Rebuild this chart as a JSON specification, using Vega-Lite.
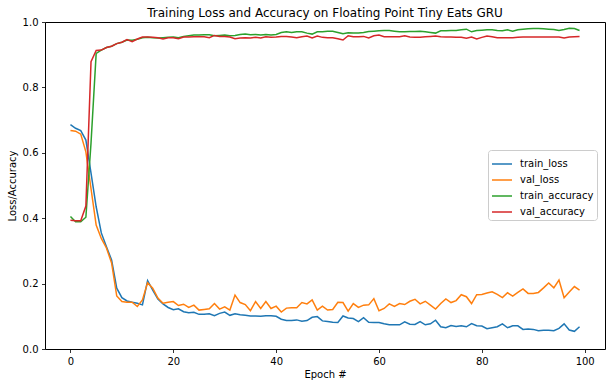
{
  "$schema": "https://vega.github.io/schema/vega-lite/v6.json",
  "width": 560,
  "height": 327,
  "autosize": "none",
  "padding": {"left": 45, "top": 22, "right": 4, "bottom": 38},
  "background": "white",
  "title": {"text": "Training Loss and Accuracy on Floating Point Tiny Eats GRU", "font": "DejaVu Sans", "fontSize": 12, "fontWeight": "normal", "color": "black", "offset": -3},
  "data": {"values": [
    {"epoch":0,"train_loss":0.686,"val_loss":0.668,"train_accuracy":0.405,"val_accuracy":0.394},
    {"epoch":1,"train_loss":0.675,"val_loss":0.666,"train_accuracy":0.389,"val_accuracy":0.392},
    {"epoch":2,"train_loss":0.668,"val_loss":0.657,"train_accuracy":0.389,"val_accuracy":0.392},
    {"epoch":3,"train_loss":0.639,"val_loss":0.603,"train_accuracy":0.403,"val_accuracy":0.437},
    {"epoch":4,"train_loss":0.538,"val_loss":0.490,"train_accuracy":0.630,"val_accuracy":0.879},
    {"epoch":5,"train_loss":0.435,"val_loss":0.379,"train_accuracy":0.904,"val_accuracy":0.913},
    {"epoch":6,"train_loss":0.355,"val_loss":0.338,"train_accuracy":0.914,"val_accuracy":0.914},
    {"epoch":7,"train_loss":0.313,"val_loss":0.309,"train_accuracy":0.922,"val_accuracy":0.922},
    {"epoch":8,"train_loss":0.272,"val_loss":0.263,"train_accuracy":0.926,"val_accuracy":0.926},
    {"epoch":9,"train_loss":0.186,"val_loss":0.162,"train_accuracy":0.934,"val_accuracy":0.934},
    {"epoch":10,"train_loss":0.157,"val_loss":0.145,"train_accuracy":0.938,"val_accuracy":0.938},
    {"epoch":11,"train_loss":0.147,"val_loss":0.143,"train_accuracy":0.945,"val_accuracy":0.946},
    {"epoch":12,"train_loss":0.143,"val_loss":0.143,"train_accuracy":0.944,"val_accuracy":0.940},
    {"epoch":13,"train_loss":0.140,"val_loss":0.130,"train_accuracy":0.947,"val_accuracy":0.948},
    {"epoch":14,"train_loss":0.135,"val_loss":0.150,"train_accuracy":0.952,"val_accuracy":0.954},
    {"epoch":15,"train_loss":0.209,"val_loss":0.203,"train_accuracy":0.953,"val_accuracy":0.954},
    {"epoch":16,"train_loss":0.180,"val_loss":0.186,"train_accuracy":0.952,"val_accuracy":0.953},
    {"epoch":17,"train_loss":0.153,"val_loss":0.156,"train_accuracy":0.951,"val_accuracy":0.952},
    {"epoch":18,"train_loss":0.138,"val_loss":0.140,"train_accuracy":0.952,"val_accuracy":0.948},
    {"epoch":19,"train_loss":0.127,"val_loss":0.143,"train_accuracy":0.953,"val_accuracy":0.952},
    {"epoch":20,"train_loss":0.120,"val_loss":0.145,"train_accuracy":0.954,"val_accuracy":0.952},
    {"epoch":21,"train_loss":0.123,"val_loss":0.133,"train_accuracy":0.952,"val_accuracy":0.949},
    {"epoch":22,"train_loss":0.114,"val_loss":0.137,"train_accuracy":0.956,"val_accuracy":0.954},
    {"epoch":23,"train_loss":0.111,"val_loss":0.127,"train_accuracy":0.958,"val_accuracy":0.954},
    {"epoch":24,"train_loss":0.112,"val_loss":0.134,"train_accuracy":0.960,"val_accuracy":0.955},
    {"epoch":25,"train_loss":0.106,"val_loss":0.119,"train_accuracy":0.960,"val_accuracy":0.955},
    {"epoch":26,"train_loss":0.106,"val_loss":0.121,"train_accuracy":0.961,"val_accuracy":0.955},
    {"epoch":27,"train_loss":0.108,"val_loss":0.123,"train_accuracy":0.961,"val_accuracy":0.952},
    {"epoch":28,"train_loss":0.102,"val_loss":0.139,"train_accuracy":0.958,"val_accuracy":0.959},
    {"epoch":29,"train_loss":0.109,"val_loss":0.122,"train_accuracy":0.959,"val_accuracy":0.956},
    {"epoch":30,"train_loss":0.113,"val_loss":0.129,"train_accuracy":0.960,"val_accuracy":0.956},
    {"epoch":31,"train_loss":0.103,"val_loss":0.119,"train_accuracy":0.958,"val_accuracy":0.954},
    {"epoch":32,"train_loss":0.108,"val_loss":0.165,"train_accuracy":0.959,"val_accuracy":0.949},
    {"epoch":33,"train_loss":0.105,"val_loss":0.142,"train_accuracy":0.962,"val_accuracy":0.951},
    {"epoch":34,"train_loss":0.103,"val_loss":0.136,"train_accuracy":0.963,"val_accuracy":0.952},
    {"epoch":35,"train_loss":0.101,"val_loss":0.117,"train_accuracy":0.961,"val_accuracy":0.951},
    {"epoch":36,"train_loss":0.101,"val_loss":0.145,"train_accuracy":0.962,"val_accuracy":0.953},
    {"epoch":37,"train_loss":0.100,"val_loss":0.124,"train_accuracy":0.960,"val_accuracy":0.951},
    {"epoch":38,"train_loss":0.102,"val_loss":0.145,"train_accuracy":0.962,"val_accuracy":0.955},
    {"epoch":39,"train_loss":0.102,"val_loss":0.124,"train_accuracy":0.960,"val_accuracy":0.953},
    {"epoch":40,"train_loss":0.100,"val_loss":0.131,"train_accuracy":0.962,"val_accuracy":0.954},
    {"epoch":41,"train_loss":0.091,"val_loss":0.113,"train_accuracy":0.968,"val_accuracy":0.956},
    {"epoch":42,"train_loss":0.087,"val_loss":0.125,"train_accuracy":0.970,"val_accuracy":0.956},
    {"epoch":43,"train_loss":0.087,"val_loss":0.126,"train_accuracy":0.968,"val_accuracy":0.954},
    {"epoch":44,"train_loss":0.089,"val_loss":0.126,"train_accuracy":0.970,"val_accuracy":0.952},
    {"epoch":45,"train_loss":0.085,"val_loss":0.142,"train_accuracy":0.970,"val_accuracy":0.955},
    {"epoch":46,"train_loss":0.087,"val_loss":0.138,"train_accuracy":0.966,"val_accuracy":0.957},
    {"epoch":47,"train_loss":0.097,"val_loss":0.150,"train_accuracy":0.963,"val_accuracy":0.951},
    {"epoch":48,"train_loss":0.099,"val_loss":0.119,"train_accuracy":0.970,"val_accuracy":0.957},
    {"epoch":49,"train_loss":0.086,"val_loss":0.131,"train_accuracy":0.970,"val_accuracy":0.953},
    {"epoch":50,"train_loss":0.084,"val_loss":0.119,"train_accuracy":0.972,"val_accuracy":0.952},
    {"epoch":51,"train_loss":0.082,"val_loss":0.121,"train_accuracy":0.972,"val_accuracy":0.952},
    {"epoch":52,"train_loss":0.081,"val_loss":0.143,"train_accuracy":0.968,"val_accuracy":0.949},
    {"epoch":53,"train_loss":0.101,"val_loss":0.142,"train_accuracy":0.964,"val_accuracy":0.945},
    {"epoch":54,"train_loss":0.095,"val_loss":0.116,"train_accuracy":0.967,"val_accuracy":0.958},
    {"epoch":55,"train_loss":0.093,"val_loss":0.139,"train_accuracy":0.966,"val_accuracy":0.955},
    {"epoch":56,"train_loss":0.084,"val_loss":0.127,"train_accuracy":0.966,"val_accuracy":0.955},
    {"epoch":57,"train_loss":0.096,"val_loss":0.134,"train_accuracy":0.968,"val_accuracy":0.956},
    {"epoch":58,"train_loss":0.082,"val_loss":0.135,"train_accuracy":0.971,"val_accuracy":0.951},
    {"epoch":59,"train_loss":0.081,"val_loss":0.154,"train_accuracy":0.972,"val_accuracy":0.958},
    {"epoch":60,"train_loss":0.081,"val_loss":0.117,"train_accuracy":0.973,"val_accuracy":0.960},
    {"epoch":61,"train_loss":0.077,"val_loss":0.124,"train_accuracy":0.974,"val_accuracy":0.955},
    {"epoch":62,"train_loss":0.074,"val_loss":0.138,"train_accuracy":0.974,"val_accuracy":0.955},
    {"epoch":63,"train_loss":0.074,"val_loss":0.130,"train_accuracy":0.972,"val_accuracy":0.955},
    {"epoch":64,"train_loss":0.074,"val_loss":0.139,"train_accuracy":0.970,"val_accuracy":0.955},
    {"epoch":65,"train_loss":0.083,"val_loss":0.136,"train_accuracy":0.970,"val_accuracy":0.958},
    {"epoch":66,"train_loss":0.076,"val_loss":0.146,"train_accuracy":0.971,"val_accuracy":0.954},
    {"epoch":67,"train_loss":0.075,"val_loss":0.152,"train_accuracy":0.971,"val_accuracy":0.953},
    {"epoch":68,"train_loss":0.084,"val_loss":0.138,"train_accuracy":0.972,"val_accuracy":0.953},
    {"epoch":69,"train_loss":0.074,"val_loss":0.146,"train_accuracy":0.970,"val_accuracy":0.955},
    {"epoch":70,"train_loss":0.077,"val_loss":0.134,"train_accuracy":0.968,"val_accuracy":0.956},
    {"epoch":71,"train_loss":0.088,"val_loss":0.122,"train_accuracy":0.966,"val_accuracy":0.957},
    {"epoch":72,"train_loss":0.068,"val_loss":0.139,"train_accuracy":0.973,"val_accuracy":0.955},
    {"epoch":73,"train_loss":0.065,"val_loss":0.153,"train_accuracy":0.973,"val_accuracy":0.954},
    {"epoch":74,"train_loss":0.072,"val_loss":0.142,"train_accuracy":0.974,"val_accuracy":0.954},
    {"epoch":75,"train_loss":0.069,"val_loss":0.148,"train_accuracy":0.974,"val_accuracy":0.953},
    {"epoch":76,"train_loss":0.071,"val_loss":0.166,"train_accuracy":0.976,"val_accuracy":0.953},
    {"epoch":77,"train_loss":0.068,"val_loss":0.160,"train_accuracy":0.978,"val_accuracy":0.950},
    {"epoch":78,"train_loss":0.078,"val_loss":0.139,"train_accuracy":0.970,"val_accuracy":0.954},
    {"epoch":79,"train_loss":0.071,"val_loss":0.166,"train_accuracy":0.974,"val_accuracy":0.948},
    {"epoch":80,"train_loss":0.070,"val_loss":0.167,"train_accuracy":0.975,"val_accuracy":0.953},
    {"epoch":81,"train_loss":0.062,"val_loss":0.171,"train_accuracy":0.976,"val_accuracy":0.957},
    {"epoch":82,"train_loss":0.065,"val_loss":0.175,"train_accuracy":0.976,"val_accuracy":0.955},
    {"epoch":83,"train_loss":0.068,"val_loss":0.167,"train_accuracy":0.974,"val_accuracy":0.952},
    {"epoch":84,"train_loss":0.077,"val_loss":0.157,"train_accuracy":0.973,"val_accuracy":0.952},
    {"epoch":85,"train_loss":0.065,"val_loss":0.172,"train_accuracy":0.976,"val_accuracy":0.952},
    {"epoch":86,"train_loss":0.071,"val_loss":0.162,"train_accuracy":0.972,"val_accuracy":0.952},
    {"epoch":87,"train_loss":0.071,"val_loss":0.173,"train_accuracy":0.976,"val_accuracy":0.953},
    {"epoch":88,"train_loss":0.060,"val_loss":0.184,"train_accuracy":0.978,"val_accuracy":0.954},
    {"epoch":89,"train_loss":0.061,"val_loss":0.170,"train_accuracy":0.979,"val_accuracy":0.954},
    {"epoch":90,"train_loss":0.060,"val_loss":0.170,"train_accuracy":0.980,"val_accuracy":0.954},
    {"epoch":91,"train_loss":0.056,"val_loss":0.173,"train_accuracy":0.980,"val_accuracy":0.954},
    {"epoch":92,"train_loss":0.057,"val_loss":0.187,"train_accuracy":0.979,"val_accuracy":0.954},
    {"epoch":93,"train_loss":0.057,"val_loss":0.202,"train_accuracy":0.978,"val_accuracy":0.954},
    {"epoch":94,"train_loss":0.056,"val_loss":0.187,"train_accuracy":0.977,"val_accuracy":0.954},
    {"epoch":95,"train_loss":0.063,"val_loss":0.211,"train_accuracy":0.974,"val_accuracy":0.954},
    {"epoch":96,"train_loss":0.077,"val_loss":0.157,"train_accuracy":0.977,"val_accuracy":0.951},
    {"epoch":97,"train_loss":0.058,"val_loss":0.174,"train_accuracy":0.981,"val_accuracy":0.954},
    {"epoch":98,"train_loss":0.054,"val_loss":0.191,"train_accuracy":0.980,"val_accuracy":0.955},
    {"epoch":99,"train_loss":0.068,"val_loss":0.180,"train_accuracy":0.974,"val_accuracy":0.956}
  ]},
  "transform": [
    {"fold": ["train_loss", "val_loss", "train_accuracy", "val_accuracy"], "as": ["metric", "value"]}
  ],
  "mark": {"type": "line", "strokeWidth": 1.5, "clip": true},
  "encoding": {
    "x": {
      "field": "epoch", "type": "quantitative",
      "scale": {"domain": [-4.95, 103.95], "nice": false, "zero": false},
      "axis": {"values": [0, 20, 40, 60, 80, 100], "title": "Epoch #", "titlePadding": 3}
    },
    "y": {
      "field": "value", "type": "quantitative",
      "scale": {"domain": [0, 1], "nice": false},
      "axis": {"values": [0, 0.2, 0.4, 0.6, 0.8, 1.0], "format": ".1f", "title": "Loss/Accuracy", "titlePadding": 5}
    },
    "color": {
      "field": "metric", "type": "nominal",
      "scale": {"domain": ["train_loss", "val_loss", "train_accuracy", "val_accuracy"], "range": ["#1f77b4", "#ff7f0e", "#2ca02c", "#d62728"]},
      "legend": {
        "title": null, "orient": "none", "legendX": 443, "legendY": 128,
        "symbolType": "stroke", "symbolSize": 400, "symbolStrokeWidth": 1.5,
        "labelFont": "DejaVu Sans", "labelFontSize": 10, "labelColor": "black", "labelOffset": 7,
        "strokeColor": "#cccccc", "fillColor": "white", "cornerRadius": 3, "padding": 3, "rowPadding": 0
      }
    }
  },
  "config": {
    "view": {"stroke": "black", "strokeWidth": 1},
    "axis": {
      "grid": false, "domain": false, "ticks": true, "tickSize": 3.5, "tickColor": "black", "tickWidth": 0.8,
      "labelFont": "DejaVu Sans", "labelFontSize": 10, "labelColor": "black", "labelPadding": 3.5,
      "titleFont": "DejaVu Sans", "titleFontSize": 10, "titleFontWeight": "normal", "titleColor": "black"
    }
  }
}
